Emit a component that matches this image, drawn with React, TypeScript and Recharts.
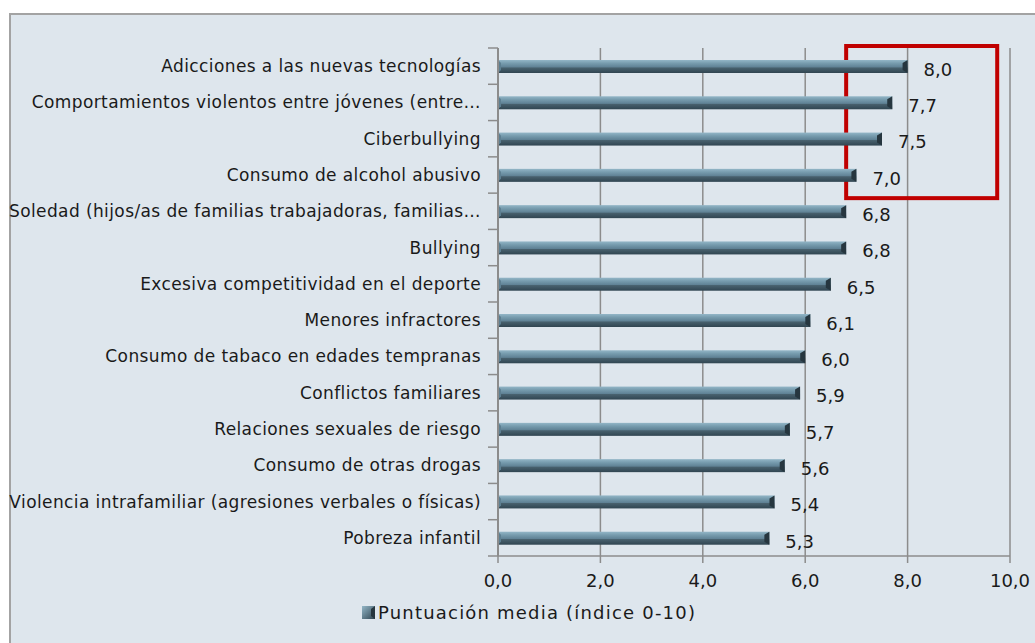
import { BarChart, Bar, XAxis, YAxis, CartesianGrid, LabelList, ReferenceArea } from "recharts";

const categories = [
  "Adicciones a las nuevas tecnologías",
  "Comportamientos violentos entre jóvenes (entre…",
  "Ciberbullying",
  "Consumo de alcohol abusivo",
  "Soledad (hijos/as de familias trabajadoras, familias…",
  "Bullying",
  "Excesiva competitividad en el deporte",
  "Menores infractores",
  "Consumo de tabaco en edades tempranas",
  "Conflictos familiares",
  "Relaciones sexuales de riesgo",
  "Consumo de otras drogas",
  "Violencia intrafamiliar (agresiones verbales o físicas)",
  "Pobreza infantil",
];
const scores = [8.0, 7.7, 7.5, 7.0, 6.8, 6.8, 6.5, 6.1, 6.0, 5.9, 5.7, 5.6, 5.4, 5.3];
const xTicks = [0, 2, 4, 6, 8, 10];
const seriesName = "Puntuación media (índice 0-10)";

const data = categories.map((name, i) => ({ name, value: scores[i] }));

const W = 1035;
const H = 643;
const TOP = 48;
const BOTTOM_AXIS = 556;
const LEFT = 498;
const RIGHT = 1010;
const BAND = (BOTTOM_AXIS - TOP) / categories.length;
const FONT = "'DejaVu Sans', sans-serif";
const GRID = "#8c8c8c";
const INK = "#1a1a1a";

const fmt = (v: number) => v.toFixed(1).replace(".", ",");

const BarShape = (props: any) => {
  const { x, y, width, height } = props;
  if (!width) return null;
  const cap = 5;
  return (
    <g>
      <rect x={x} y={y} width={width} height={height} fill="url(#barGrad)" />
      <polygon
        points={`${x},${y} ${x + 3},${y + 3} ${x + 3},${y + height - 3} ${x},${y + height}`}
        fill="#5d7f91"
      />
      <polygon
        points={`${x + width - cap},${y + 3} ${x + width},${y} ${x + width},${y + height} ${x + width - cap},${y + height - 3}`}
        fill="#26363f"
      />
    </g>
  );
};

const YTick = (props: any) => {
  const { y, payload, index } = props;
  const top = y - BAND / 2;
  return (
    <g>
      <line x1={LEFT - 10} x2={LEFT} y1={top} y2={top} stroke={GRID} strokeWidth={1.5} />
      {index === categories.length - 1 && (
        <line x1={LEFT - 10} x2={LEFT} y1={top + BAND} y2={top + BAND} stroke={GRID} strokeWidth={1.5} />
      )}
      <text
        x={LEFT - 17}
        y={y}
        dy="0.35em"
        textAnchor="end"
        fontSize={17}
        letterSpacing={0.4}
        fill={INK}
        fontFamily={FONT}
      >
        {payload.value}
      </text>
    </g>
  );
};

const ValueLabel = (props: any) => {
  const { x, y, width, height, value } = props;
  return (
    <text x={x + width + 16} y={y + height / 2 + 3} dy="0.35em" fontSize={18} fill={INK} fontFamily={FONT}>
      {fmt(value)}
    </text>
  );
};

const HighlightBox = (props: any) => {
  const { x, y, width, height } = props;
  return (
    <rect x={x} y={y - 2} width={width} height={height + 7} fill="none" stroke="#c00000" strokeWidth={4} />
  );
};

export default function App() {
  return (
    <div style={{ position: "absolute", left: 0, top: 0, width: W, height: H, background: "#fff", overflow: "hidden" }}>
      <div
        style={{
          position: "absolute",
          left: 9,
          top: 13,
          width: W,
          height: H,
          background: "#dee6ed",
          border: "2px solid #a3a3a3",
        }}
      />
      <div style={{ position: "absolute", left: 0, top: 0 }}>
        <BarChart
          width={W}
          height={H}
          data={data}
          layout="vertical"
          margin={{ top: TOP, right: W - RIGHT, bottom: H - BOTTOM_AXIS - 30, left: 0 }}
          barSize={13}
        >
          <defs>
            <linearGradient id="barGrad" x1="0" y1="0" x2="0" y2="1">
              <stop offset="0%" stopColor="#93b6c7" />
              <stop offset="25%" stopColor="#779cae" />
              <stop offset="55%" stopColor="#5f8194" />
              <stop offset="60%" stopColor="#48616e" />
              <stop offset="100%" stopColor="#304551" />
            </linearGradient>
          </defs>
          <CartesianGrid horizontal={false} stroke={GRID} strokeWidth={1.5} />
          <XAxis
            type="number"
            domain={[0, 10]}
            ticks={xTicks}
            tickFormatter={fmt}
            height={30}
            stroke={GRID}
            strokeWidth={1.5}
            tickSize={7}
            tickMargin={11}
            tick={{ fontSize: 18, fill: INK, fontFamily: FONT }}
          />
          <YAxis
            type="category"
            dataKey="name"
            width={LEFT}
            interval={0}
            tickLine={false}
            stroke={GRID}
            strokeWidth={2}
            tick={<YTick />}
          />
          <Bar dataKey="value" name={seriesName} shape={<BarShape />} isAnimationActive={false}>
            <LabelList dataKey="value" content={<ValueLabel />} />
          </Bar>
          <ReferenceArea
            x1={6.8}
            x2={9.75}
            y1={categories[0]}
            y2={categories[3]}
            shape={<HighlightBox />}
            ifOverflow="visible"
          />
        </BarChart>
      </div>
      <div
        style={{
          position: "absolute",
          left: 362,
          top: 602,
          display: "flex",
          alignItems: "center",
          fontFamily: FONT,
          fontSize: 18,
          letterSpacing: 1.2,
          color: INK,
        }}
      >
        <svg width={13} height={13} style={{ marginRight: 3 }}>
          <defs>
            <linearGradient id="legGrad" x1="0" y1="0" x2="1" y2="1">
              <stop offset="0%" stopColor="#93b6c7" />
              <stop offset="100%" stopColor="#304551" />
            </linearGradient>
          </defs>
          <rect x={0} y={0} width={13} height={13} fill="url(#legGrad)" />
          <polygon points="9,3 13,0 13,13 9,10" fill="#26363f" />
        </svg>
        <span>{seriesName}</span>
      </div>
    </div>
  );
}
